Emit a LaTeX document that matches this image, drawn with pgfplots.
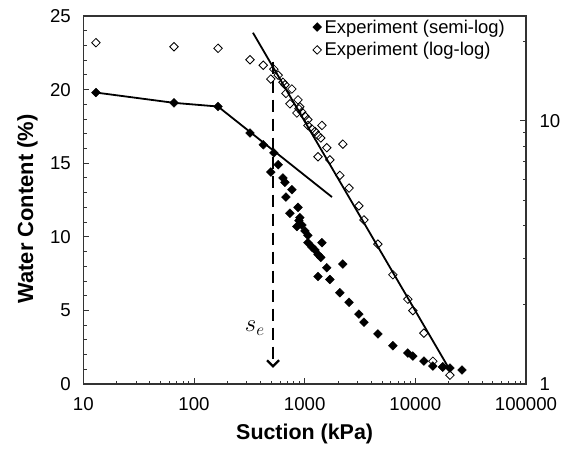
\documentclass[border=0pt]{standalone}
\usepackage{fontspec}
\setmainfont{Liberation Sans}
\usepackage{pgfplots}
\usepackage{pgfplotstable}
\pgfplotsset{compat=1.18}
\usetikzlibrary{arrows.meta}

% suction (kPa), water content (%)
\pgfplotstableread{
s w
13 19.8
66 19.1
165 18.85
321 17.05
423 16.25
527 15.7
577 14.9
495 14.4
637 14.0
664 13.7
767 13.2
677 12.7
871 12.0
736 11.6
905 11.3
888 11.1
944 10.8
851 10.7
1007 10.4
1070 10.1
1433 9.6
1070 9.6
1165 9.3
1240 9.1
1320 8.8
1400 8.6
2213 8.15
1585 7.9
1320 7.3
1690 7.1
2080 6.2
2518 5.55
3090 4.75
3436 4.2
4590 3.4
6270 2.6
8550 2.1
9500 1.9
11950 1.56
14400 1.22
17700 1.16
20550 1.08
26400 0.95
}\swcc

\pgfplotstableread{
s w
13 19.8
66 19.1
165 18.85
1766 12.7
}\semilogfit

\pgfplotstableread{
s w
341 21.6
20530 1.13
}\loglogfit

\begin{document}
\begin{tikzpicture}
\begin{axis}[
  at={(0,0)}, anchor=south west,
  scale only axis, width=442.7bp, height=368bp,
  xmode=log, xmin=10, xmax=100000,
  ymin=0, ymax=25,
  tick align=inside,
  axis line style={line width=1.4bp, black!80},
  every tick/.style={black!80, line width=0.9bp},
  major tick length=6bp, minor tick length=3.5bp,
  tick label style={font=\fontsize{18.7}{20}\selectfont},
  /pgf/number format/assume math mode=true,
  ytick={0,5,...,25}, minor y tick num=4,
  xtick={10,100,1000,10000,100000},
  xticklabels={10,100,1000,10000,100000},
  minor xtick={20,30,40,50,60,70,80,90,200,300,400,500,600,700,800,900,2000,3000,4000,5000,6000,7000,8000,9000,20000,30000,40000,50000,60000,70000,80000,90000},
  xtick pos=bottom, ytick pos=left,
  xticklabel style={yshift=-10bp},
  yticklabel style={xshift=-9bp},
  xlabel={Suction (kPa)}, ylabel={Water Content (\%)},
  xlabel style={font=\fontsize{21.5}{24}\selectfont\bfseries,
    at={(axis description cs:0.50,-0.135)}, anchor=center},
  ylabel style={font=\fontsize{22}{24}\selectfont\bfseries,
    at={(axis description cs:-0.126,0.476)}, anchor=center},
]
\addplot[black, line width=1.8bp] table[x=s, y=w] {\semilogfit};
\addplot[only marks, mark=square*, mark size=3.1bp,
  mark options={rotate=45, fill=black, draw=black, line width=0.4bp}]
  table[x=s, y=w] {\swcc};
\draw[black, line width=2.8bp, dash pattern=on 12bp off 7bp,
      -{Straight Barb[length=6bp, width=12bp, line width=2.2bp]}]
  (axis cs:518,21.9) -- (axis cs:518,1.1);
\node[font=\fontsize{27}{30}\selectfont] at (axis cs:355,3.8) {$s_e$};
\end{axis}

\begin{axis}[
  at={(0,0)}, anchor=south west,
  scale only axis, width=442.7bp, height=368bp,
  xmode=log, ymode=log, xmin=10, xmax=100000, ymin=1, ymax=25,
  axis x line=none, axis y line*=right,
  tick align=inside,
  axis line style={line width=1.4bp, black!80},
  every tick/.style={black!80, line width=0.9bp},
  major tick length=6bp, minor tick length=3.5bp,
  tick label style={font=\fontsize{18.7}{20}\selectfont},
  ytick={1,10}, yticklabels={1,10},
  minor ytick={2,3,4,5,6,7,8,9,20},
  yticklabel style={xshift=10bp},
  legend style={draw=none, fill=none, at={(0.518,0.996)},
    anchor=north west, font=\fontsize{18.5}{20}\selectfont, row sep=4bp,
    inner sep=0pt, nodes={inner xsep=3bp}},
  legend cell align=left,
]
\addlegendimage{only marks, mark=square*, mark size=3.1bp,
  mark options={rotate=45, fill=black, draw=black, line width=0.4bp}}
\addlegendentry{Experiment (semi-log)}
\addplot[black, line width=1.8bp, forget plot] table[x=s, y=w] {\loglogfit};
\addplot[only marks, mark=square, mark size=3.0bp,
  mark options={rotate=45, draw=black, line width=0.8bp}]
  table[x=s, y=w] {\swcc};
\addlegendentry{Experiment (log-log)}
\end{axis}
\pgfresetboundingbox
\path[use as bounding box] (-83.3bp,-65bp) rectangle (483.7bp,384bp);
\end{tikzpicture}
\end{document}
